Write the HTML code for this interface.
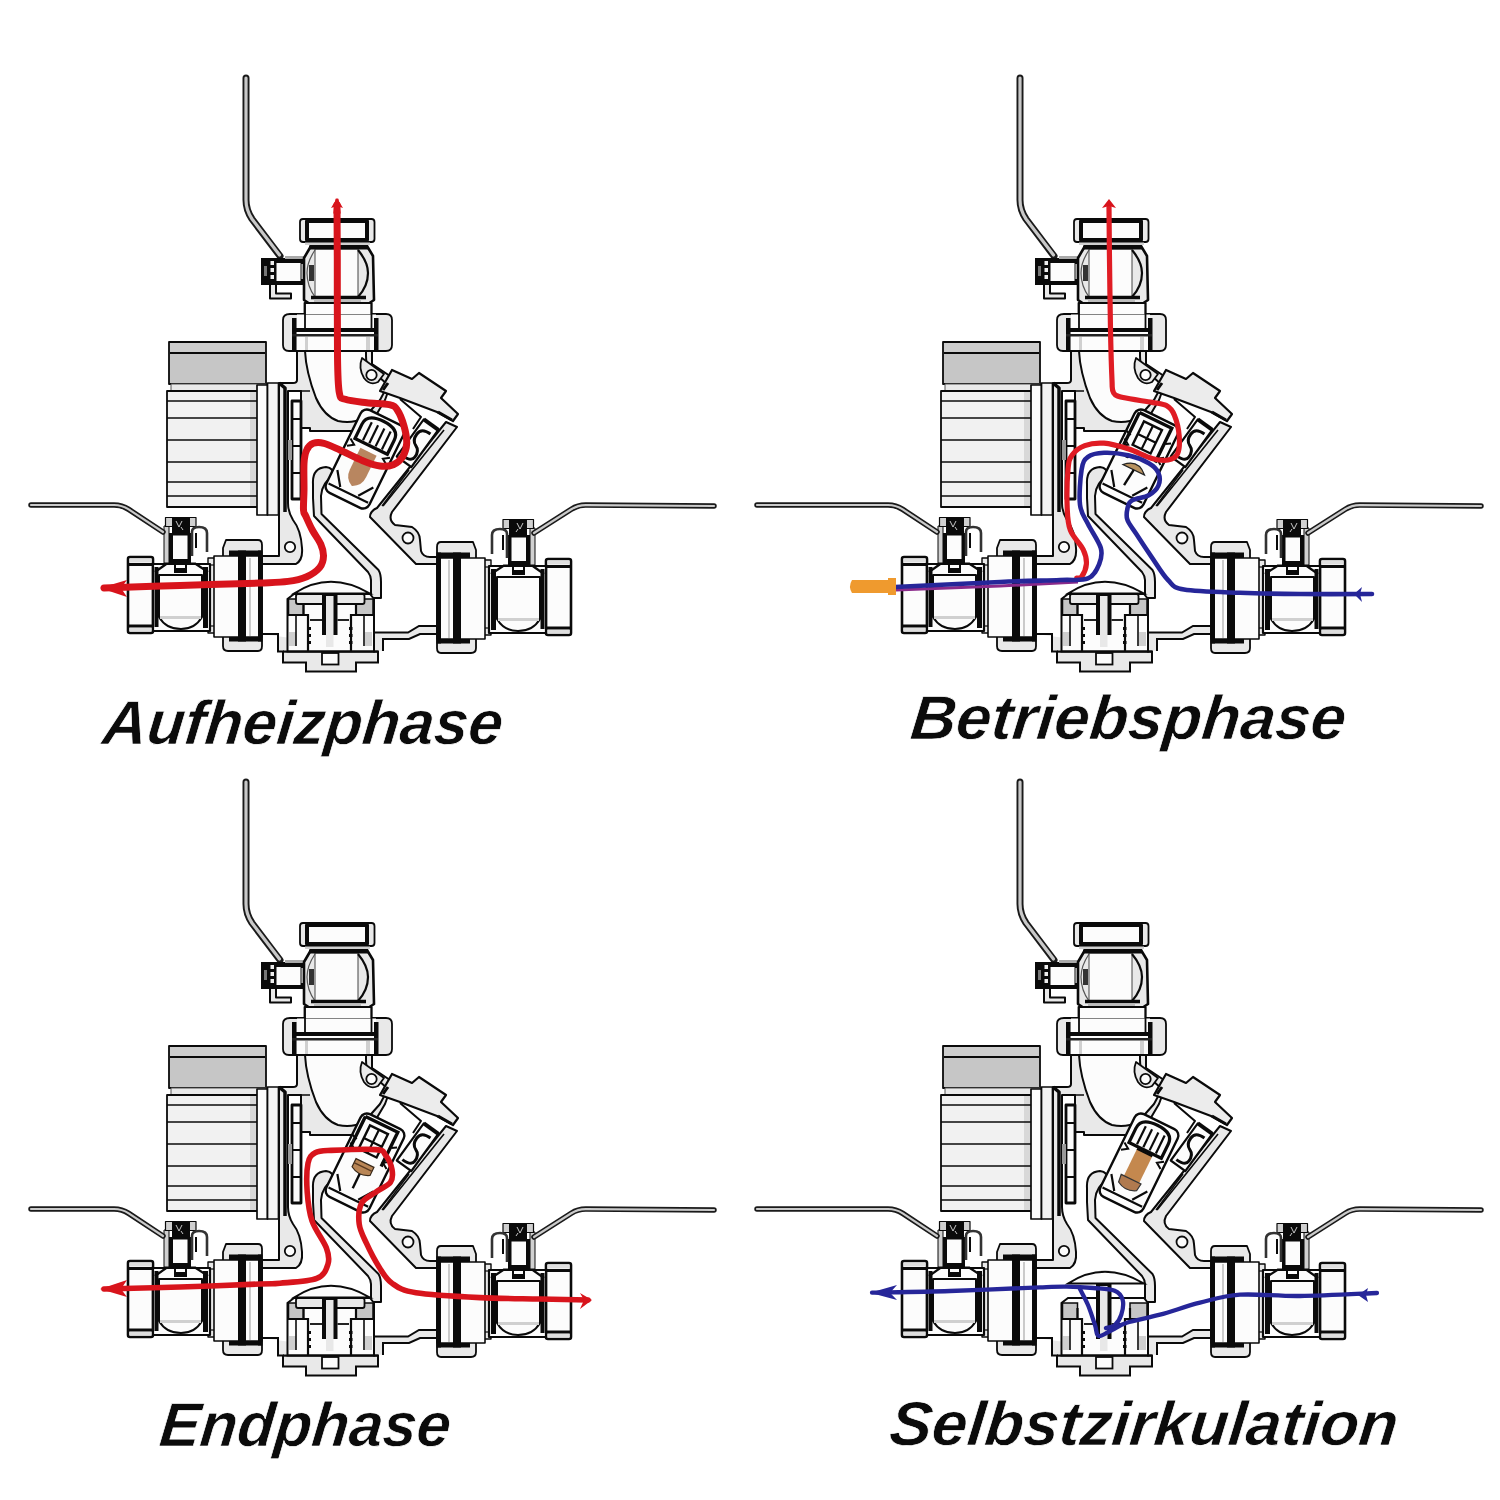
<!DOCTYPE html>
<html><head><meta charset="utf-8">
<style>
html,body{margin:0;padding:0;background:#fff;width:1500px;height:1500px;overflow:hidden}
svg{position:absolute;left:0;top:0}
.t{font-family:"Liberation Sans",sans-serif;font-weight:bold;font-style:italic;fill:#0b0b0b}
</style></head><body>
<svg width="1500" height="1500" viewBox="0 0 1500 1500">
<defs>
<g id="dg" stroke-linejoin="round">
<path d="M246,78 L246,200 Q246,210 252,219 L280,256" fill="none" stroke="#1a1a1a" stroke-width="7" stroke-linecap="round"/>
<path d="M246,78 L246,200 Q246,210 252,219 L279.5,255" fill="none" stroke="#c8c8c8" stroke-width="3.2" stroke-linecap="round"/>
<rect x="261" y="258" width="53" height="27" fill="#0a0a0a"/>
<rect x="276.5" y="263" width="24" height="18" fill="#fcfcfc"/>
<rect x="270.5" y="261" width="3.5" height="4" fill="#eee"/>
<rect x="270.5" y="268" width="3.5" height="4" fill="#eee"/>
<rect x="270.5" y="275" width="3.5" height="4" fill="#eee"/>
<rect x="264" y="266" width="3" height="10" fill="#777"/>
<rect x="301.5" y="264" width="4" height="15" fill="#e6e6e6"/>
<rect x="285" y="256" width="21" height="3" fill="#aaa"/>
<path d="M270,285 L270,298.5 L291,298.5 L291,293.5 L276,293.5 L276,285" fill="#e9e9e9" stroke="#0a0a0a" stroke-width="2"/>
<path d="M311,246 L367,246 L373,256 L374,300 L368,304 L310,304 L304,300 L304,258 Z" fill="#e9e9e9" stroke="#0a0a0a" stroke-width="2.6"/>
<path d="M315,249 L358,249 L358,297 L315,297 Z" fill="#fcfcfc" stroke="#444" stroke-width="1"/>
<path d="M358,250 Q368,262 368,273 Q368,286 358,297" fill="none" stroke="#0a0a0a" stroke-width="2.2"/>
<path d="M315,250 Q307,262 307,273 Q307,286 315,297" fill="none" stroke="#555" stroke-width="1.2"/>
<line x1="309" y1="247.5" x2="368" y2="247.5" stroke="#0a0a0a" stroke-width="4"/>
<line x1="311" y1="297.5" x2="366" y2="297.5" stroke="#0a0a0a" stroke-width="3.5"/>
<rect x="314" y="299.5" width="47" height="3.5" fill="#bdbdbd"/>
<rect x="309" y="265" width="5" height="16" fill="#333"/>
<rect x="300" y="219" width="74.5" height="23" rx="3" fill="#e9e9e9" stroke="#0a0a0a" stroke-width="1.8"/>
<rect x="307" y="221" width="60" height="19" fill="#fcfcfc" stroke="#0a0a0a" stroke-width="4"/>
<rect x="305" y="242.5" width="65" height="2.5" fill="#d0d0d0"/>
<rect x="304.5" y="303" width="67" height="12" fill="#fcfcfc" stroke="#0a0a0a" stroke-width="1.8"/>
<path d="M290,314 L304,314 L304,317 L372,317 L372,314 L386,314 Q392,314 392,320 L392,345 Q392,351 386,351 L289,351 Q283,351 283,345 L283,320 Q283,314 290,314 Z" fill="#e9e9e9" stroke="#0a0a0a" stroke-width="1.8"/>
<rect x="297" y="314.5" width="79" height="35.5" fill="#fcfcfc"/>
<line x1="305" y1="303" x2="305" y2="328" stroke="#0a0a0a" stroke-width="1.8"/>
<line x1="371.5" y1="303" x2="371.5" y2="328" stroke="#0a0a0a" stroke-width="1.8"/>
<rect x="292" y="318" width="4.5" height="33" fill="#0a0a0a"/>
<rect x="374" y="318" width="4.5" height="33" fill="#0a0a0a"/>
<rect x="292" y="328" width="86" height="4" fill="#0a0a0a"/>
<rect x="292" y="334" width="86" height="2.5" fill="#222"/>
<rect x="305" y="337" width="3" height="13" fill="#d0d0d0"/>
<rect x="366" y="337" width="4" height="13" fill="#d0d0d0"/>
<rect x="169" y="342" width="97" height="42" fill="#c6c6c6" stroke="#0a0a0a" stroke-width="1.8"/>
<rect x="170" y="343" width="95" height="9" fill="#cdcdcd"/>
<line x1="170" y1="353" x2="265" y2="353" stroke="#0a0a0a" stroke-width="2"/>
<rect x="171" y="384" width="95" height="7" fill="#e9e9e9" stroke="#555" stroke-width="1"/>
<rect x="167" y="391" width="90" height="116" fill="#f1f1f1" stroke="#0a0a0a" stroke-width="1.8"/>
<rect x="250" y="392" width="7" height="114" fill="#d8d8d8"/>
<line x1="167" y1="401" x2="257" y2="401" stroke="#0a0a0a" stroke-width="1.7"/>
<line x1="167" y1="418" x2="257" y2="418" stroke="#0a0a0a" stroke-width="1.7"/>
<line x1="167" y1="440" x2="257" y2="440" stroke="#0a0a0a" stroke-width="1.7"/>
<line x1="167" y1="462" x2="257" y2="462" stroke="#0a0a0a" stroke-width="1.7"/>
<line x1="167" y1="482" x2="257" y2="482" stroke="#0a0a0a" stroke-width="1.7"/>
<line x1="167" y1="496" x2="257" y2="496" stroke="#0a0a0a" stroke-width="1.7"/>
<rect x="257" y="385" width="10.5" height="130" fill="#fcfcfc" stroke="#0a0a0a" stroke-width="1.7"/>
<rect x="267.5" y="383" width="11" height="132" fill="#f4f4f4" stroke="#0a0a0a" stroke-width="1.7"/>
<path d="M297,351 L297,380 Q297,383 293,383 L279,383 L279,556 L262,556 L262,564 L296,564 Q303,560 302,548 Q301,530 293,520 Q288,512 288,503 L288,391 L301,391 L301,428 L310,428 L310,431 L355,431 Q366,431 372,422 L385,400 L393,378 L372,364 L372,351 Z" fill="#e9e9e9" stroke="#0a0a0a" stroke-width="2"/>
<path d="M305,351 Q306,372 316,398 Q324,416 338,421 Q352,424 364,418 L380,400 L388,385 L369,368 Q366,364 366,356 L366,351 Z" fill="#fcfcfc" stroke="#0a0a0a" stroke-width="2"/>
<path d="M279,383 L285,388 L285,512" fill="none" stroke="#0a0a0a" stroke-width="3.5"/>
<rect x="292" y="401" width="9" height="98" fill="#fcfcfc" stroke="#0a0a0a" stroke-width="2.8"/>
<line x1="292" y1="419" x2="301" y2="419" stroke="#0a0a0a" stroke-width="2"/>
<line x1="292" y1="446" x2="301" y2="446" stroke="#0a0a0a" stroke-width="2"/>
<line x1="292" y1="473" x2="301" y2="473" stroke="#0a0a0a" stroke-width="2"/>
<rect x="288" y="440" width="4" height="20" fill="#999"/>
<line x1="301" y1="391" x2="310" y2="391" stroke="#0a0a0a" stroke-width="1.5"/>
<circle cx="290" cy="547" r="5.2" fill="#fcfcfc" stroke="#0a0a0a" stroke-width="1.8"/>
<path d="M362,358 Q358,368 364,378 Q370,386 378,382 L384,374 Z" fill="#e9e9e9" stroke="#0a0a0a" stroke-width="1.8"/>
<circle cx="371.5" cy="375" r="5.2" fill="#fcfcfc" stroke="#0a0a0a" stroke-width="1.8"/>
<path d="M313,484 Q312,468 326,467 Q334,468 334,476 Q322,482 321,496 L321.5,514 L378.5,570 Q381,574 381,582 L381,598 L371,598 L371,580 Q371,576 368,572 L314,516 L313,498 Z" fill="#e9e9e9" stroke="#0a0a0a" stroke-width="2"/>
<path d="M446,422 L457,427 L392,512 Q388,520 395,525 L412,527 Q420,532 420,540 L421,551 Q423,557 430,557 L439,557 L439,564 L416,564 L370,517 Q370,511 377,508 Z" fill="#e9e9e9" stroke="#0a0a0a" stroke-width="2"/>
<line x1="444" y1="430" x2="383" y2="506" stroke="#0a0a0a" stroke-width="1.6"/>
<path d="M409,470 L382,506" stroke="#0a0a0a" stroke-width="1.4" fill="none"/>
<circle cx="408" cy="538" r="5.5" fill="#fcfcfc" stroke="#0a0a0a" stroke-width="1.8"/>
<g transform="translate(417,444) rotate(36)">
<rect x="-9" y="-24" width="18" height="46" fill="#fcfcfc" stroke="#0a0a0a" stroke-width="2.2"/>
<path d="M5,-16 Q-6,-16 -6,-8 Q-6,0 0,2 Q6,4 6,12 Q6,18 -5,18" fill="none" stroke="#0a0a0a" stroke-width="3"/>
<line x1="-9" y1="-24" x2="9" y2="-24" stroke="#0a0a0a" stroke-width="4"/>
</g>
<path d="M392,370 L412,379 L419,373 L446,391 L441,398 L458,414 L453,421 L437,412 L400,398 L380,391 Z" fill="#ececec" stroke="#0a0a0a" stroke-width="2.2"/>
<path d="M383,390 L388,383 M438,412 L452,420" stroke="#0a0a0a" stroke-width="3"/>
<path d="M400,399 L421,417 L413,429" fill="none" stroke="#0a0a0a" stroke-width="2"/>
<g id="bvL"><rect x="208" y="558" width="16" height="75" fill="#e9e9e9" stroke="#0a0a0a" stroke-width="1.4"/>
<line x1="209" y1="565" x2="223" y2="565" stroke="#0a0a0a" stroke-width="1.2"/>
<line x1="209" y1="626" x2="223" y2="626" stroke="#0a0a0a" stroke-width="1.2"/>
<rect x="128" y="557" width="25" height="76" rx="2" fill="#fcfcfc" stroke="#0a0a0a" stroke-width="2.6"/>
<rect x="129.5" y="558.5" width="22" height="4" fill="#dedede"/>
<rect x="129.5" y="628" width="22" height="3.5" fill="#dedede"/>
<line x1="128" y1="564.5" x2="153" y2="564.5" stroke="#0a0a0a" stroke-width="3"/>
<line x1="128" y1="626" x2="153" y2="626" stroke="#0a0a0a" stroke-width="3"/>
<path d="M153,564 L210,564 L210,631 L153,631 Z" fill="#fcfcfc" stroke="#0a0a0a" stroke-width="2.2"/>
<rect x="154.5" y="567" width="4" height="60" fill="#0a0a0a"/>
<rect x="203" y="567" width="5" height="61" fill="#0a0a0a"/>
<path d="M159,575 L202,575 L202,617 Q195,629 181,629 Q166,629 159,617 Z" fill="#fcfcfc" stroke="#0a0a0a" stroke-width="2"/>
<rect x="160" y="616" width="41" height="3" fill="#d0d0d0"/>
<path d="M155,572 L167,563.5 L195,563.5 L208,572" fill="none" stroke="#0a0a0a" stroke-width="2.2"/>
<rect x="174" y="563" width="13" height="10" fill="#0a0a0a"/>
<rect x="176" y="565" width="9" height="3" fill="#fcfcfc"/>
<rect x="164" y="526" width="5" height="37" fill="#d0d0d0" stroke="#0a0a0a" stroke-width="1"/>
<rect x="165.5" y="517.5" width="30.5" height="9" fill="#d0d0d0" stroke="#0a0a0a" stroke-width="1.2"/>
<rect x="172" y="517.5" width="18" height="16" fill="#0a0a0a"/>
<rect x="169" y="533" width="22" height="30" fill="#0a0a0a"/>
<rect x="173" y="535.5" width="14.5" height="23.5" fill="#fcfcfc"/>
<path d="M176,521 l3,6 l3,-6 M181,527 l2,3" stroke="#ddd" stroke-width="0.9" fill="none"/>
<path d="M192,556 L192,532 Q192,527 199,527 Q207,527 207,533 L207,552" fill="none" stroke="#333" stroke-width="2.6"/>
<path d="M196,548 L196,533" stroke="#0a0a0a" stroke-width="2"/>
<path d="M226,540 L258,540 Q262,540 262,545 L262,646 Q262,651 258,651 L228,651 Q223,651 223,646 L223,548 Z" fill="#e9e9e9" stroke="#0a0a0a" stroke-width="1.8"/>
<rect x="214" y="556" width="48" height="81" fill="#fcfcfc" stroke="#0a0a0a" stroke-width="1.6"/>
<rect x="229" y="550.5" width="33" height="5.5" fill="#0a0a0a"/>
<rect x="229" y="637" width="33" height="4.5" fill="#0a0a0a"/>
<rect x="238" y="550.5" width="8" height="91" fill="#0a0a0a"/>
<rect x="258" y="550.5" width="4.5" height="91" fill="#0a0a0a"/>
<line x1="250" y1="558" x2="250" y2="636" stroke="#999" stroke-width="1"/></g>
<use href="#bvL" transform="translate(699,2) scale(-1,1)"/>
</g>
</defs>
<use href="#dg"/>
<use href="#dg" transform="translate(774,0)"/>
<use href="#dg" transform="translate(0,704)"/>
<use href="#dg" transform="translate(774,704)"/>
<g id="cvTL" transform="translate(0,0)">
<g transform="translate(365,459) rotate(26)">
<rect x="-24" y="-46" width="48" height="92" rx="7" fill="#fcfcfc" stroke="#0a0a0a" stroke-width="2.4"/>
<path d="M-18,-30 Q-18,-42 0,-42 Q18,-42 18,-30 L18,-14 L-18,-14 Z" fill="none" stroke="#0a0a0a" stroke-width="3.2"/>
<line x1="-10" y1="-36" x2="-10" y2="-16" stroke="#0a0a0a" stroke-width="2.2"/>
<line x1="-3" y1="-36" x2="-3" y2="-16" stroke="#0a0a0a" stroke-width="2.2"/>
<line x1="4" y1="-36" x2="4" y2="-16" stroke="#0a0a0a" stroke-width="2.2"/>
<line x1="11" y1="-36" x2="11" y2="-16" stroke="#0a0a0a" stroke-width="2.2"/>
<path d="M-9,-8 L9,-8 L9,16 Q9,26 0,30 Q-9,26 -9,16 Z" fill="#b88660"/>
<line x1="-9" y1="0" x2="9" y2="0" stroke="#7a5030" stroke-width="1"/>
<path d="M-20,22 L-10,36 M20,22 L10,36 M-22,38 L22,38" stroke="#0a0a0a" stroke-width="2.2" fill="none"/>
<path d="M-22,-12 l6,4 l-6,4 M22,-12 l-6,4 l6,4" stroke="#0a0a0a" stroke-width="2" fill="none"/>
</g>
<path d="M262,634 L278,634 L278,651.5 L283,651.5 L283,662.5 L306,662.5 L306,671.5 L356,671.5 L356,662.5 L378,662.5 L378,651.5 L374,651.5 L374,632.5 L408,632.5 L419,626 L437,626 L437,634 L420,634 L409,639 L383,639 L383,651" fill="#e9e9e9" stroke="#0a0a0a" stroke-width="2"/>
<path d="M294,593.5 Q330,570 370,593.5 Z" fill="#fcfcfc" stroke="#0a0a0a" stroke-width="2"/>
<path d="M294,594 L287.5,599 L287.5,651.5 L374,651.5 L374,599 L370,594 Z" fill="#fcfcfc" stroke="#0a0a0a" stroke-width="2"/>
<rect x="288.5" y="599" width="15" height="16" fill="#c6c6c6" stroke="#0a0a0a" stroke-width="1.5"/>
<rect x="356" y="599" width="17" height="16" fill="#c6c6c6" stroke="#0a0a0a" stroke-width="1.5"/>
<rect x="289" y="632" width="7" height="14" fill="#cfcfcf"/>
<rect x="365" y="632" width="7" height="14" fill="#cfcfcf"/>
<rect x="296" y="594" width="68.5" height="10" rx="2" fill="#e9e9e9" stroke="#0a0a0a" stroke-width="1.8"/>
<line x1="288" y1="615" x2="308" y2="615" stroke="#0a0a0a" stroke-width="2"/>
<line x1="351" y1="615" x2="373" y2="615" stroke="#0a0a0a" stroke-width="2"/>
<path d="M303.5,604 L303.5,615 L308,615 L308,651 M356,604 L356,615 L351,615 L351,651" fill="none" stroke="#0a0a0a" stroke-width="2.2"/>
<line x1="296" y1="615" x2="296" y2="646" stroke="#0a0a0a" stroke-width="1.6"/>
<line x1="364" y1="615" x2="364" y2="646" stroke="#0a0a0a" stroke-width="1.6"/>
<line x1="310" y1="620" x2="322" y2="620" stroke="#0a0a0a" stroke-width="1.8"/>
<line x1="337.5" y1="620" x2="349" y2="620" stroke="#0a0a0a" stroke-width="1.8"/>
<rect x="322" y="594" width="15.5" height="41" fill="#0a0a0a"/>
<rect x="326" y="596" width="7.5" height="51" fill="#e8e8e8"/>
<rect x="322" y="653" width="16.5" height="11.5" fill="#fcfcfc" stroke="#0a0a0a" stroke-width="1.8"/>
<rect x="283" y="650.5" width="95" height="2.2" fill="#0a0a0a"/>
<rect x="307.5" y="627" width="3.5" height="3" fill="#0a0a0a"/>
<rect x="349" y="627" width="3.5" height="3" fill="#0a0a0a"/>
<rect x="307.5" y="634" width="3.5" height="3" fill="#0a0a0a"/>
<rect x="349" y="634" width="3.5" height="3" fill="#0a0a0a"/>
<rect x="307.5" y="641" width="3.5" height="3" fill="#0a0a0a"/>
<rect x="349" y="641" width="3.5" height="3" fill="#0a0a0a"/>
</g>
<g id="cvTR" transform="translate(774,0)">
<g transform="translate(365,459) rotate(26)">
<rect x="-24" y="-46" width="48" height="92" rx="7" fill="#fcfcfc" stroke="#0a0a0a" stroke-width="2.4"/>
<path d="M-20,-42 L-20,-6 M-20,-42 L16,-42 L16,-4" fill="none" stroke="#0a0a0a" stroke-width="3.4"/>
<rect x="-12" y="-36" width="20" height="26" fill="none" stroke="#0a0a0a" stroke-width="2.4"/>
<path d="M-2,-36 L-2,-10 M-12,-22 L8,-22" stroke="#0a0a0a" stroke-width="2.2" fill="none"/>
<path d="M-24,-20 l6,2 M22,-28 l-5,3" stroke="#0a0a0a" stroke-width="2" fill="none"/>
<path d="M-12,12 Q0,0 12,12 Z" fill="#b8925f" stroke="#222" stroke-width="1.2"/>
<line x1="0" y1="12" x2="-2" y2="30" stroke="#0a0a0a" stroke-width="2.4"/>
<circle cx="-12" cy="2" r="2.5" fill="#0a0a0a"/>
<path d="M-20,22 L-10,36 M20,22 L10,36 M-22,38 L22,38" stroke="#0a0a0a" stroke-width="2.2" fill="none"/>
<path d="M-22,-12 l6,4 l-6,4 M22,-12 l-6,4 l6,4" stroke="#0a0a0a" stroke-width="2" fill="none"/>
</g>
<path d="M262,634 L278,634 L278,651.5 L283,651.5 L283,662.5 L306,662.5 L306,671.5 L356,671.5 L356,662.5 L378,662.5 L378,651.5 L374,651.5 L374,632.5 L408,632.5 L419,626 L437,626 L437,634 L420,634 L409,639 L383,639 L383,651" fill="#e9e9e9" stroke="#0a0a0a" stroke-width="2"/>
<path d="M294,593.5 Q330,570 370,593.5 Z" fill="#fcfcfc" stroke="#0a0a0a" stroke-width="2"/>
<path d="M294,594 L287.5,599 L287.5,651.5 L374,651.5 L374,599 L370,594 Z" fill="#fcfcfc" stroke="#0a0a0a" stroke-width="2"/>
<rect x="288.5" y="599" width="15" height="16" fill="#c6c6c6" stroke="#0a0a0a" stroke-width="1.5"/>
<rect x="356" y="599" width="17" height="16" fill="#c6c6c6" stroke="#0a0a0a" stroke-width="1.5"/>
<rect x="289" y="632" width="7" height="14" fill="#cfcfcf"/>
<rect x="365" y="632" width="7" height="14" fill="#cfcfcf"/>
<rect x="296" y="594" width="68.5" height="10" rx="2" fill="#e9e9e9" stroke="#0a0a0a" stroke-width="1.8"/>
<line x1="288" y1="615" x2="308" y2="615" stroke="#0a0a0a" stroke-width="2"/>
<line x1="351" y1="615" x2="373" y2="615" stroke="#0a0a0a" stroke-width="2"/>
<path d="M303.5,604 L303.5,615 L308,615 L308,651 M356,604 L356,615 L351,615 L351,651" fill="none" stroke="#0a0a0a" stroke-width="2.2"/>
<line x1="296" y1="615" x2="296" y2="646" stroke="#0a0a0a" stroke-width="1.6"/>
<line x1="364" y1="615" x2="364" y2="646" stroke="#0a0a0a" stroke-width="1.6"/>
<line x1="310" y1="620" x2="322" y2="620" stroke="#0a0a0a" stroke-width="1.8"/>
<line x1="337.5" y1="620" x2="349" y2="620" stroke="#0a0a0a" stroke-width="1.8"/>
<rect x="322" y="594" width="15.5" height="41" fill="#0a0a0a"/>
<rect x="326" y="596" width="7.5" height="51" fill="#e8e8e8"/>
<rect x="322" y="653" width="16.5" height="11.5" fill="#fcfcfc" stroke="#0a0a0a" stroke-width="1.8"/>
<rect x="283" y="650.5" width="95" height="2.2" fill="#0a0a0a"/>
<rect x="307.5" y="627" width="3.5" height="3" fill="#0a0a0a"/>
<rect x="349" y="627" width="3.5" height="3" fill="#0a0a0a"/>
<rect x="307.5" y="634" width="3.5" height="3" fill="#0a0a0a"/>
<rect x="349" y="634" width="3.5" height="3" fill="#0a0a0a"/>
<rect x="307.5" y="641" width="3.5" height="3" fill="#0a0a0a"/>
<rect x="349" y="641" width="3.5" height="3" fill="#0a0a0a"/>
</g>
<g id="cvBL" transform="translate(0,704)">
<g transform="translate(365,459) rotate(26)">
<rect x="-24" y="-46" width="48" height="92" rx="7" fill="#fcfcfc" stroke="#0a0a0a" stroke-width="2.4"/>
<path d="M-20,-42 L-20,-6 M-20,-42 L16,-42 L16,-4" fill="none" stroke="#0a0a0a" stroke-width="3.4"/>
<rect x="-12" y="-36" width="20" height="26" fill="none" stroke="#0a0a0a" stroke-width="2.4"/>
<path d="M-2,-36 L-2,-10 M-12,-22 L8,-22" stroke="#0a0a0a" stroke-width="2.2" fill="none"/>
<path d="M-24,-20 l6,2 M22,-28 l-5,3" stroke="#0a0a0a" stroke-width="2" fill="none"/>
<path d="M-10,0 L10,0 L10,9 Q0,15 -10,9 Z" fill="#b98656" stroke="#3a2a1a" stroke-width="1.2"/>
<line x1="-10" y1="4.5" x2="10" y2="4.5" stroke="#5a3a20" stroke-width="1.4"/>
<line x1="0" y1="12" x2="0" y2="28" stroke="#0a0a0a" stroke-width="2.4"/>
<path d="M-20,22 L-10,36 M20,22 L10,36 M-22,38 L22,38" stroke="#0a0a0a" stroke-width="2.2" fill="none"/>
<path d="M-22,-12 l6,4 l-6,4 M22,-12 l-6,4 l6,4" stroke="#0a0a0a" stroke-width="2" fill="none"/>
</g>
<path d="M262,634 L278,634 L278,651.5 L283,651.5 L283,662.5 L306,662.5 L306,671.5 L356,671.5 L356,662.5 L378,662.5 L378,651.5 L374,651.5 L374,632.5 L408,632.5 L419,626 L437,626 L437,634 L420,634 L409,639 L383,639 L383,651" fill="#e9e9e9" stroke="#0a0a0a" stroke-width="2"/>
<path d="M294,593.5 Q330,570 370,593.5 Z" fill="#fcfcfc" stroke="#0a0a0a" stroke-width="2"/>
<path d="M294,594 L287.5,599 L287.5,651.5 L374,651.5 L374,599 L370,594 Z" fill="#fcfcfc" stroke="#0a0a0a" stroke-width="2"/>
<rect x="288.5" y="599" width="15" height="16" fill="#c6c6c6" stroke="#0a0a0a" stroke-width="1.5"/>
<rect x="356" y="599" width="17" height="16" fill="#c6c6c6" stroke="#0a0a0a" stroke-width="1.5"/>
<rect x="289" y="632" width="7" height="14" fill="#cfcfcf"/>
<rect x="365" y="632" width="7" height="14" fill="#cfcfcf"/>
<rect x="296" y="594" width="68.5" height="10" rx="2" fill="#e9e9e9" stroke="#0a0a0a" stroke-width="1.8"/>
<line x1="288" y1="615" x2="308" y2="615" stroke="#0a0a0a" stroke-width="2"/>
<line x1="351" y1="615" x2="373" y2="615" stroke="#0a0a0a" stroke-width="2"/>
<path d="M303.5,604 L303.5,615 L308,615 L308,651 M356,604 L356,615 L351,615 L351,651" fill="none" stroke="#0a0a0a" stroke-width="2.2"/>
<line x1="296" y1="615" x2="296" y2="646" stroke="#0a0a0a" stroke-width="1.6"/>
<line x1="364" y1="615" x2="364" y2="646" stroke="#0a0a0a" stroke-width="1.6"/>
<line x1="310" y1="620" x2="322" y2="620" stroke="#0a0a0a" stroke-width="1.8"/>
<line x1="337.5" y1="620" x2="349" y2="620" stroke="#0a0a0a" stroke-width="1.8"/>
<rect x="322" y="594" width="15.5" height="41" fill="#0a0a0a"/>
<rect x="326" y="596" width="7.5" height="51" fill="#e8e8e8"/>
<rect x="322" y="653" width="16.5" height="11.5" fill="#fcfcfc" stroke="#0a0a0a" stroke-width="1.8"/>
<rect x="283" y="650.5" width="95" height="2.2" fill="#0a0a0a"/>
<rect x="307.5" y="627" width="3.5" height="3" fill="#0a0a0a"/>
<rect x="349" y="627" width="3.5" height="3" fill="#0a0a0a"/>
<rect x="307.5" y="634" width="3.5" height="3" fill="#0a0a0a"/>
<rect x="349" y="634" width="3.5" height="3" fill="#0a0a0a"/>
<rect x="307.5" y="641" width="3.5" height="3" fill="#0a0a0a"/>
<rect x="349" y="641" width="3.5" height="3" fill="#0a0a0a"/>
</g>
<g id="cvBR" transform="translate(774,704)">
<g transform="translate(365,459) rotate(26)">
<rect x="-24" y="-46" width="48" height="92" rx="7" fill="#fcfcfc" stroke="#0a0a0a" stroke-width="2.4"/>
<path d="M-18,-30 Q-18,-42 0,-42 Q18,-42 18,-30 L18,-14 L-18,-14 Z" fill="none" stroke="#0a0a0a" stroke-width="3.2"/>
<line x1="-10" y1="-36" x2="-10" y2="-16" stroke="#0a0a0a" stroke-width="2.2"/>
<line x1="-3" y1="-36" x2="-3" y2="-16" stroke="#0a0a0a" stroke-width="2.2"/>
<line x1="4" y1="-36" x2="4" y2="-16" stroke="#0a0a0a" stroke-width="2.2"/>
<line x1="11" y1="-36" x2="11" y2="-16" stroke="#0a0a0a" stroke-width="2.2"/>
<path d="M-8,-12 L9,-12 L9,18 L-8,18 Z" fill="#c4884e"/>
<path d="M-11,18 L11,18 L10,26 Q0,32 -10,26 Z" fill="#b07a4f" stroke="#333" stroke-width="1.2"/>
<line x1="-8" y1="-12" x2="9" y2="-12" stroke="#0a0a0a" stroke-width="2.2"/>
<path d="M-20,22 L-10,36 M20,22 L10,36 M-22,38 L22,38" stroke="#0a0a0a" stroke-width="2.2" fill="none"/>
<path d="M-22,-12 l6,4 l-6,4 M22,-12 l-6,4 l6,4" stroke="#0a0a0a" stroke-width="2" fill="none"/>
</g>
<path d="M262,634 L278,634 L278,651.5 L283,651.5 L283,662.5 L306,662.5 L306,671.5 L356,671.5 L356,662.5 L378,662.5 L378,651.5 L374,651.5 L374,632.5 L408,632.5 L419,626 L437,626 L437,634 L420,634 L409,639 L383,639 L383,651" fill="#e9e9e9" stroke="#0a0a0a" stroke-width="2"/>
<path d="M294,579.5 Q330,556 370,579.5 Z" fill="#fcfcfc" stroke="#0a0a0a" stroke-width="2"/>
<path d="M294,594 L287.5,599 L287.5,651.5 L374,651.5 L374,599 L370,594 Z" fill="#fcfcfc" stroke="#0a0a0a" stroke-width="2"/>
<rect x="288.5" y="599" width="15" height="16" fill="#c6c6c6" stroke="#0a0a0a" stroke-width="1.5"/>
<rect x="356" y="599" width="17" height="16" fill="#c6c6c6" stroke="#0a0a0a" stroke-width="1.5"/>
<rect x="289" y="632" width="7" height="14" fill="#cfcfcf"/>
<rect x="365" y="632" width="7" height="14" fill="#cfcfcf"/>
<line x1="288" y1="615" x2="308" y2="615" stroke="#0a0a0a" stroke-width="2"/>
<line x1="351" y1="615" x2="373" y2="615" stroke="#0a0a0a" stroke-width="2"/>
<path d="M303.5,604 L303.5,615 L308,615 L308,651 M356,604 L356,615 L351,615 L351,651" fill="none" stroke="#0a0a0a" stroke-width="2.2"/>
<line x1="296" y1="615" x2="296" y2="646" stroke="#0a0a0a" stroke-width="1.6"/>
<line x1="364" y1="615" x2="364" y2="646" stroke="#0a0a0a" stroke-width="1.6"/>
<line x1="310" y1="620" x2="322" y2="620" stroke="#0a0a0a" stroke-width="1.8"/>
<line x1="337.5" y1="620" x2="349" y2="620" stroke="#0a0a0a" stroke-width="1.8"/>
<rect x="322" y="580" width="15.5" height="55" fill="#0a0a0a"/>
<rect x="326" y="582" width="7.5" height="65" fill="#e8e8e8"/>
<rect x="322" y="653" width="16.5" height="11.5" fill="#fcfcfc" stroke="#0a0a0a" stroke-width="1.8"/>
<rect x="283" y="650.5" width="95" height="2.2" fill="#0a0a0a"/>
<rect x="307.5" y="627" width="3.5" height="3" fill="#0a0a0a"/>
<rect x="349" y="627" width="3.5" height="3" fill="#0a0a0a"/>
<rect x="307.5" y="634" width="3.5" height="3" fill="#0a0a0a"/>
<rect x="349" y="634" width="3.5" height="3" fill="#0a0a0a"/>
<rect x="307.5" y="641" width="3.5" height="3" fill="#0a0a0a"/>
<rect x="349" y="641" width="3.5" height="3" fill="#0a0a0a"/>
</g>
<path d="M31,505 L114.0,505.0 Q122,505 128.7,509.4 L163,532" fill="none" stroke="#1a1a1a" stroke-width="5.5" stroke-linecap="round"/>
<path d="M31,505 L114.0,505.0 Q122,505 128.7,509.4 L163,532" fill="none" stroke="#cacaca" stroke-width="2.2" stroke-linecap="round"/>
<path d="M534,533 L571.3,509.3 Q578,505 586.0,505.1 L714,506" fill="none" stroke="#1a1a1a" stroke-width="5.5" stroke-linecap="round"/>
<path d="M534,533 L571.3,509.3 Q578,505 586.0,505.1 L714,506" fill="none" stroke="#cacaca" stroke-width="2.2" stroke-linecap="round"/>
<path d="M757,505 L888.0,505.0 Q896,505 902.7,509.4 L937,532" fill="none" stroke="#1a1a1a" stroke-width="5.5" stroke-linecap="round"/>
<path d="M757,505 L888.0,505.0 Q896,505 902.7,509.4 L937,532" fill="none" stroke="#cacaca" stroke-width="2.2" stroke-linecap="round"/>
<path d="M1308,533 L1345.3,509.3 Q1352,505 1360.0,505.1 L1481,506" fill="none" stroke="#1a1a1a" stroke-width="5.5" stroke-linecap="round"/>
<path d="M1308,533 L1345.3,509.3 Q1352,505 1360.0,505.1 L1481,506" fill="none" stroke="#cacaca" stroke-width="2.2" stroke-linecap="round"/>
<path d="M31,1209 L114.0,1209.0 Q122,1209 128.7,1213.4 L163,1236" fill="none" stroke="#1a1a1a" stroke-width="5.5" stroke-linecap="round"/>
<path d="M31,1209 L114.0,1209.0 Q122,1209 128.7,1213.4 L163,1236" fill="none" stroke="#cacaca" stroke-width="2.2" stroke-linecap="round"/>
<path d="M534,1237 L571.3,1213.3 Q578,1209 586.0,1209.1 L714,1210" fill="none" stroke="#1a1a1a" stroke-width="5.5" stroke-linecap="round"/>
<path d="M534,1237 L571.3,1213.3 Q578,1209 586.0,1209.1 L714,1210" fill="none" stroke="#cacaca" stroke-width="2.2" stroke-linecap="round"/>
<path d="M757,1209 L888.0,1209.0 Q896,1209 902.7,1213.4 L937,1236" fill="none" stroke="#1a1a1a" stroke-width="5.5" stroke-linecap="round"/>
<path d="M757,1209 L888.0,1209.0 Q896,1209 902.7,1213.4 L937,1236" fill="none" stroke="#cacaca" stroke-width="2.2" stroke-linecap="round"/>
<path d="M1308,1237 L1345.3,1213.3 Q1352,1209 1360.0,1209.1 L1481,1210" fill="none" stroke="#1a1a1a" stroke-width="5.5" stroke-linecap="round"/>
<path d="M1308,1237 L1345.3,1213.3 Q1352,1209 1360.0,1209.1 L1481,1210" fill="none" stroke="#cacaca" stroke-width="2.2" stroke-linecap="round"/>
<path d="M896,590 L1000,586 L1078,582" fill="none" stroke="#8a2a8a" stroke-width="3"/>
<path d="M337.0,205.0 C337.1,214.2 337.2,234.7 337.3,260.0 C337.4,285.3 337.2,334.6 337.5,356.7 C337.8,378.8 338.0,385.6 339.3,392.7 C340.6,399.8 340.7,397.6 345.3,399.3 C349.9,401.0 359.4,401.8 366.7,402.7 C374.0,403.6 384.2,403.5 389.3,404.7 C394.4,405.9 394.9,406.4 397.3,410.0 C399.8,413.6 402.4,420.4 404.0,426.0 C405.6,431.6 406.9,438.2 406.7,443.3 C406.5,448.4 404.9,453.1 402.7,456.7 C400.5,460.3 397.1,463.1 393.3,464.7 C389.5,466.2 385.1,466.7 380.0,466.0 C374.9,465.3 369.4,463.4 362.7,460.7 C356.0,458.0 346.4,452.9 340.0,450.0 C333.6,447.1 328.4,444.4 324.0,443.3 C319.6,442.2 316.2,442.2 313.3,443.3 C310.4,444.4 308.2,446.7 306.7,450.0 C305.1,453.3 304.4,456.6 304.0,463.3 C303.6,470.0 304.1,482.2 304.0,490.0 C303.9,497.8 303.2,505.7 303.5,510.0 C303.8,514.3 304.2,512.7 305.7,516.0 C307.2,519.3 309.8,525.3 312.3,530.0 C314.8,534.7 318.8,539.7 320.7,544.0 C322.6,548.3 323.6,552.1 323.5,556.0 C323.4,559.9 322.6,563.9 319.8,567.4 C317.0,570.9 312.0,574.4 306.7,576.7 C301.4,579.0 295.8,580.4 288.0,581.4 C280.2,582.4 278.0,582.3 260.0,583.0 C242.0,583.7 206.0,584.7 180.0,585.5 C154.0,586.3 116.7,587.6 104.0,588.0" fill="none" stroke="#d8141c" stroke-width="7" stroke-linecap="round" stroke-linejoin="round" />
<path d="M337,198 L331,208 L337,206 L343,208 Z" fill="#d8141c"/>
<path d="M337,199 L335,212 L339,212 Z" fill="#d8141c" stroke="#d8141c" stroke-width="3"/>
<path d="M100,588 L127,580 L121,588 L127,597 Z" fill="#d8141c"/>
<path d="M1109.0,207.0 C1109.1,215.8 1109.2,239.5 1109.5,260.0 C1109.8,280.5 1110.1,310.0 1110.5,330.0 C1110.9,350.0 1111.5,369.5 1112.0,380.0 C1112.5,390.5 1111.7,389.9 1113.6,392.8 C1115.5,395.7 1116.8,396.0 1123.2,397.6 C1129.6,399.2 1144.8,401.1 1152.0,402.4 C1159.2,403.7 1162.7,403.5 1166.4,405.6 C1170.1,407.7 1172.3,410.1 1174.4,415.2 C1176.5,420.3 1178.7,429.6 1179.2,436.0 C1179.7,442.4 1179.5,449.6 1177.6,453.6 C1175.7,457.6 1172.3,459.2 1168.0,460.0 C1163.7,460.8 1158.7,460.3 1152.0,458.4 C1145.3,456.5 1136.0,451.3 1128.0,448.8 C1120.0,446.3 1111.2,443.7 1104.0,443.2 C1096.8,442.7 1090.1,443.6 1084.8,445.6 C1079.5,447.6 1074.8,451.2 1072.0,455.2 C1069.2,459.2 1068.8,460.8 1068.0,469.6 C1067.2,478.4 1066.8,497.9 1067.2,508.0 C1067.6,518.1 1067.7,523.5 1070.4,530.4 C1073.1,537.3 1080.5,544.0 1083.2,549.6 C1085.9,555.2 1086.7,559.5 1086.4,564.0 C1086.1,568.5 1083.2,574.5 1081.6,576.8 C1080.0,579.1 1077.6,577.8 1076.8,578.0" fill="none" stroke="#e01c24" stroke-width="5.2" stroke-linecap="round" stroke-linejoin="round" />
<path d="M1109,199 L1102,208 L1109,206 L1116,208 Z" fill="#d8141c"/>
<path d="M895.0,587.0 C912.5,586.2 972.5,583.2 1000.0,582.0 C1027.5,580.8 1045.3,580.6 1060.0,580.0 C1074.7,579.4 1081.5,581.1 1088.0,578.4 C1094.5,575.7 1097.1,569.1 1099.2,564.0 C1101.3,558.9 1102.7,554.7 1100.8,548.0 C1098.9,541.3 1091.5,531.2 1088.0,524.0 C1084.5,516.8 1081.1,513.9 1080.0,504.8 C1078.9,495.7 1080.3,477.6 1081.6,469.6 C1082.9,461.6 1084.3,459.6 1088.0,456.8 C1091.7,454.0 1097.3,453.1 1104.0,452.8 C1110.7,452.5 1120.5,453.5 1128.0,455.2 C1135.5,456.9 1143.7,460.3 1148.8,463.2 C1153.9,466.1 1156.8,469.1 1158.4,472.8 C1160.0,476.5 1160.0,481.9 1158.4,485.6 C1156.8,489.3 1153.1,492.8 1148.8,495.2 C1144.5,497.6 1136.3,498.1 1132.8,500.0 C1129.3,501.9 1128.9,503.2 1128.0,506.4 C1127.1,509.6 1125.9,514.7 1127.2,519.2 C1128.5,523.7 1131.9,527.2 1136.0,533.6 C1140.1,540.0 1146.7,549.9 1152.0,557.6 C1157.3,565.3 1162.7,574.7 1168.0,580.0 C1173.3,585.3 1172.0,587.5 1184.0,589.6 C1196.0,591.7 1220.7,592.1 1240.0,592.8 C1259.3,593.5 1278.0,593.8 1300.0,594.0 C1322.0,594.2 1360.0,594.0 1372.0,594.0" fill="none" stroke="#262699" stroke-width="4.6" stroke-linecap="round" stroke-linejoin="round" />
<path d="M1354,594 L1362,587 L1360,594 L1362,602 Z" fill="#262699"/>
<path d="M852,580 L888,580 L888,578 L896,578 L896,595 L888,595 L888,593 L852,593 Q848,586.5 852,580 Z" fill="#ef9a2e"/>
<path d="M104.0,1289.0 C116.7,1288.7 154.0,1287.8 180.0,1287.0 C206.0,1286.2 243.3,1284.6 260.0,1284.0 C276.7,1283.4 270.5,1284.1 280.0,1283.2 C289.5,1282.3 308.8,1281.6 316.8,1278.4 C324.8,1275.2 326.4,1269.1 328.0,1264.0 C329.6,1258.9 329.1,1255.2 326.4,1248.0 C323.7,1240.8 315.2,1230.1 312.0,1220.8 C308.8,1211.5 307.9,1201.6 307.2,1192.0 C306.5,1182.4 306.7,1169.7 308.0,1163.2 C309.3,1156.7 311.3,1154.9 315.2,1152.8 C319.1,1150.7 321.1,1150.9 331.2,1150.4 C341.3,1149.9 366.9,1148.8 376.0,1149.6 C385.1,1150.4 382.9,1151.9 385.6,1155.2 C388.3,1158.5 391.2,1165.1 392.0,1169.6 C392.8,1174.1 393.1,1178.7 390.4,1182.4 C387.7,1186.1 380.8,1188.5 376.0,1192.0 C371.2,1195.5 364.4,1197.9 361.6,1203.2 C358.8,1208.5 358.4,1217.3 359.2,1224.0 C360.0,1230.7 363.1,1236.0 366.4,1243.2 C369.7,1250.4 374.9,1260.5 379.2,1267.2 C383.5,1273.9 385.9,1278.9 392.0,1283.2 C398.1,1287.5 401.3,1290.4 416.0,1292.8 C430.7,1295.2 459.3,1296.6 480.0,1297.6 C500.7,1298.6 522.0,1298.6 540.0,1299.0 C558.0,1299.4 580.0,1299.8 588.0,1300.0" fill="none" stroke="#d8141c" stroke-width="5.6" stroke-linecap="round" stroke-linejoin="round" />
<path d="M100,1289 L127,1280 L121,1289 L127,1297 Z" fill="#d8141c"/>
<path d="M592,1300 L580,1293 L584,1300 L580,1309 Z" fill="#d8141c"/>
<path d="M872.0,1292.7 C885.0,1292.4 922.0,1291.9 950.0,1291.0 C978.0,1290.1 1020.5,1288.0 1040.0,1287.3 C1059.5,1286.6 1057.8,1286.6 1066.7,1286.7 C1075.6,1286.8 1085.3,1287.3 1093.3,1288.0 C1101.3,1288.7 1109.8,1288.7 1114.7,1290.7 C1119.6,1292.7 1121.6,1296.0 1122.7,1300.0 C1123.8,1304.0 1122.6,1310.5 1121.3,1314.7 C1120.0,1318.9 1117.2,1323.1 1114.7,1325.3 C1112.2,1327.5 1107.5,1327.5 1106.0,1328.0" fill="none" stroke="#262699" stroke-width="4.3" stroke-linecap="round" stroke-linejoin="round" />
<path d="M1080.0,1289.0 C1081.3,1291.7 1085.5,1299.0 1088.0,1305.0 C1090.5,1311.0 1093.2,1319.8 1095.0,1325.0 C1096.8,1330.2 1095.9,1335.2 1098.7,1336.0 C1101.5,1336.8 1107.3,1332.2 1112.0,1330.0 C1116.7,1327.8 1118.7,1325.2 1126.7,1322.7 C1134.7,1320.2 1147.8,1318.0 1160.0,1314.7 C1172.2,1311.4 1186.7,1306.0 1200.0,1302.7 C1213.3,1299.4 1223.3,1295.8 1240.0,1294.7 C1256.7,1293.6 1277.2,1296.3 1300.0,1296.0 C1322.8,1295.7 1364.2,1293.5 1377.0,1293.0" fill="none" stroke="#262699" stroke-width="4.3" stroke-linecap="round" stroke-linejoin="round" />
<path d="M870,1292.7 L897,1285 L890,1292.7 L897,1300 Z" fill="#262699"/>
<path d="M1358,1295 L1368,1288 L1366,1295 L1368,1302 Z" fill="#262699"/>
<g class="t" stroke="#fff" stroke-width="0.7">
<text transform="translate(101,743.5) skewX(-6)" font-size="62" textLength="400" lengthAdjust="spacingAndGlyphs">Aufheizphase</text>
<text transform="translate(909,738.5) skewX(-6)" font-size="62" textLength="435" lengthAdjust="spacingAndGlyphs">Betriebsphase</text>
<text transform="translate(158,1445.5) skewX(-6)" font-size="62" textLength="291" lengthAdjust="spacingAndGlyphs">Endphase</text>
<text transform="translate(888,1444.5) skewX(-6)" font-size="62" textLength="508" lengthAdjust="spacingAndGlyphs">Selbstzirkulation</text>
</g>
</svg>
</body></html>
